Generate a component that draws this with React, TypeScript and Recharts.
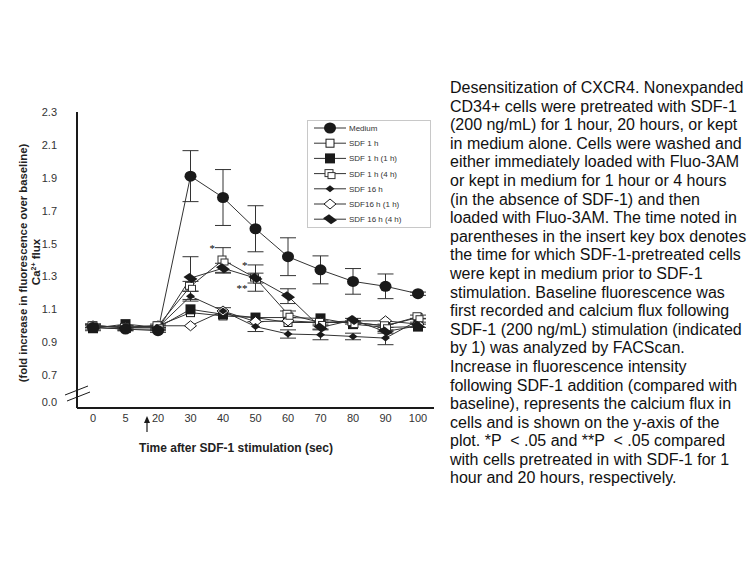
import React from "react";
import {
  LineChart,
  Line,
  XAxis,
  YAxis,
  ErrorBar,
  Legend,
  ReferenceDot,
} from "recharts";

// seconds after SDF-1 stimulation (category axis, evenly spaced)
const times = [0, 5, 20, 30, 40, 50, 60, 70, 80, 90, 100];

const medium = [0.99, 0.98, 0.97, 1.91, 1.78, 1.59, 1.42, 1.34, 1.27, 1.24, 1.195];
const mediumErr = [0.02, 0.01, 0.01, 0.155, 0.17, 0.14, 0.115, 0.085, 0.078, 0.075, 0.01];
const sdf1h = [1.0, 0.99, 1.0, 1.08, 1.06, 1.05, 1.02, 1.02, 1.02, 1.0, 1.05];
const sdf1h1h = [0.985, 1.01, 0.99, 1.1, 1.07, 1.05, 1.05, 1.045, 1.01, 0.99, 0.995];
const sdf1h4h = [1.0, 0.99, 1.0, 1.24, 1.4, 1.29, 1.07, 1.02, 1.02, 1.0, 1.055];
const sdf1h4hErr = [0.01, 0.01, 0.01, 0.03, 0.075, 0.08, 0.02, 0.01, 0.01, 0.01, 0.01];
const sdf16h = [1.0, 0.99, 0.99, 1.18, 1.09, 0.995, 0.95, 0.945, 0.935, 0.925, 1.032];
const sdf16hErr = [0.01, 0.01, 0.01, 0.03, 0.02, 0.03, 0.025, 0.03, 0.02, 0.04, 0.01];
const sdf16h1h = [1.0, 0.99, 1.0, 1.0, 1.09, 1.025, 1.03, 1.02, 1.03, 1.03, 1.01];
const sdf16h4h = [0.99, 0.98, 0.98, 1.29, 1.35, 1.29, 1.18, 0.99, 1.035, 0.965, 1.0];
const sdf16h4hErr = [0.01, 0.01, 0.01, 0.13, 0.03, 0.03, 0.045, 0.01, 0.01, 0.01, 0.01];

const yTicks = [0.5, 0.7, 0.9, 1.1, 1.3, 1.5, 1.7, 1.9, 2.1, 2.3];

// significance marks
const notes = [
  { t: 40, y: 1.47, text: "*" },
  { t: 50, y: 1.37, text: "*" },
  { t: 50, y: 1.23, text: "**" },
];

const caption = [
  "Desensitization of CXCR4. Nonexpanded",
  "CD34+ cells were pretreated with SDF-1",
  "(200 ng/mL) for 1 hour, 20 hours, or kept",
  "in medium alone. Cells were washed and",
  "either immediately loaded with Fluo-3AM",
  "or kept in medium for 1 hour or 4 hours",
  "(in the absence of SDF-1) and then",
  "loaded with Fluo-3AM. The time noted in",
  "parentheses in the insert key box denotes",
  "the time for which SDF-1-pretreated cells",
  "were kept in medium prior to SDF-1",
  "stimulation. Baseline fluorescence was",
  "first recorded and calcium flux following",
  "SDF-1 (200 ng/mL) stimulation (indicated",
  "by 1) was analyzed by FACScan.",
  "Increase in fluorescence intensity",
  "following SDF-1 addition (compared with",
  "baseline), represents the calcium flux in",
  "cells and is shown on the y-axis of the",
  "plot. *P  < .05 and **P  < .05 compared",
  "with cells pretreated in with SDF-1 for 1",
  "hour and 20 hours, respectively.",
];

type Kind = "circle" | "sq" | "sqFill" | "sqDouble" | "dmSmall" | "dmOpen" | "dmBig";

const series: { key: string; name: string; kind: Kind; err?: string }[] = [
  { key: "sdf1h", name: "SDF 1 h", kind: "sq" },
  { key: "sdf1h1h", name: "SDF 1 h (1 h)", kind: "sqFill" },
  { key: "sdf16h1h", name: "SDF16 h (1 h)", kind: "dmOpen" },
  { key: "sdf16h", name: "SDF 16 h", kind: "dmSmall", err: "sdf16hErr" },
  { key: "sdf1h4h", name: "SDF 1 h (4 h)", kind: "sqDouble", err: "sdf1h4hErr" },
  { key: "sdf16h4h", name: "SDF 16 h (4 h)", kind: "dmBig", err: "sdf16h4hErr" },
  { key: "medium", name: "Medium", kind: "circle", err: "mediumErr" },
];

const legendOrder = ["medium", "sdf1h", "sdf1h1h", "sdf1h4h", "sdf16h", "sdf16h1h", "sdf16h4h"];

const data = times.map((t, i) => ({
  t,
  medium: medium[i],
  mediumErr: mediumErr[i],
  sdf1h: sdf1h[i],
  sdf1h1h: sdf1h1h[i],
  sdf1h4h: sdf1h4h[i],
  sdf1h4hErr: sdf1h4hErr[i],
  sdf16h: sdf16h[i],
  sdf16hErr: sdf16hErr[i],
  sdf16h1h: sdf16h1h[i],
  sdf16h4h: sdf16h4h[i],
  sdf16h4hErr: sdf16h4hErr[i],
}));

const FONT = "'Liberation Sans', Arial, sans-serif";
const INK = "#1a1a1a";

function Marker({ kind, cx, cy }: { kind: Kind; cx: number; cy: number }) {
  switch (kind) {
    case "circle":
      return <ellipse cx={cx} cy={cy} rx={6} ry={5.5} fill={INK} />;
    case "sq":
      return <rect x={cx - 4} y={cy - 4} width={8} height={8} fill="#fff" stroke={INK} />;
    case "sqFill":
      return <rect x={cx - 5} y={cy - 5} width={10} height={10} fill={INK} />;
    case "sqDouble":
      return (
        <g>
          <rect x={cx - 5} y={cy - 4} width={8} height={7} fill="#fff" stroke="#333" />
          <rect x={cx - 2} y={cy - 1} width={7} height={6} fill="#fff" stroke="#333" />
        </g>
      );
    case "dmSmall":
      return (
        <polygon
          points={`${cx - 4.5},${cy} ${cx},${cy - 3.5} ${cx + 4.5},${cy} ${cx},${cy + 3.5}`}
          fill={INK}
        />
      );
    case "dmOpen":
      return (
        <polygon
          points={`${cx - 6},${cy} ${cx},${cy - 5} ${cx + 6},${cy} ${cx},${cy + 5}`}
          fill="#fff"
          stroke={INK}
        />
      );
    case "dmBig":
      return (
        <polygon
          points={`${cx - 7},${cy - 1} ${cx - 1},${cy - 5} ${cx + 7},${cy + 1} ${cx + 1},${cy + 5}`}
          fill={INK}
        />
      );
  }
  return null;
}

function makeDot(kind: Kind) {
  return function Dot(props: any) {
    const { cx, cy, index } = props;
    if (cx == null || cy == null) return <g key={index} />;
    return (
      <g key={`${kind}-${index}`}>
        <Marker kind={kind} cx={cx} cy={cy} />
      </g>
    );
  };
}

function KeyBox() {
  const rowH = 15.2;
  return (
    <div style={{ border: "1px solid #c8c8c8", background: "#fff", width: 122, height: 106 }}>
      <svg width={122} height={106}>
        {legendOrder.map((k, i) => {
          const s = series.find((d) => d.key === k)!;
          const y = 7 + i * rowH;
          return (
            <g key={k}>
              <line x1={6} x2={38} y1={y} y2={y} stroke="#333" strokeWidth={1} />
              <Marker kind={s.kind} cx={22} cy={y} />
              <text x={41} y={y + 3} fontSize={8} fontFamily={FONT} fill="#333">
                {s.name}
              </text>
            </g>
          );
        })}
      </svg>
    </div>
  );
}

function XTick({ x, y, payload }: any) {
  const v = payload?.value;
  return (
    <g>
      <text x={x} y={y} dy={8} textAnchor="middle" fontSize={11} fontFamily={FONT} fill="#333">
        {v}
      </text>
      {v === 20 && (
        <g>
          <line x1={x - 11} x2={x - 11} y1={y + 4} y2={y + 18} stroke={INK} strokeWidth={1.2} />
          <polygon
            points={`${x - 14},${y + 9} ${x - 8},${y + 9} ${x - 11},${y + 2}`}
            fill={INK}
          />
        </g>
      )}
    </g>
  );
}

function YTick({ x, y, payload }: any) {
  const v = payload?.value as number;
  if (v === 0.5) {
    const ax = x + 20;
    return (
      <g>
        <text x={x} y={y - 6} dy={4} textAnchor="end" fontSize={11} fontFamily={FONT} fill="#333">
          0.0
        </text>
        <line x1={ax - 12} y1={y - 13} x2={ax + 11} y2={y - 22} stroke={INK} strokeWidth={1} />
        <line x1={ax - 10} y1={y - 7} x2={ax + 13} y2={y - 16} stroke={INK} strokeWidth={1} />
      </g>
    );
  }
  return (
    <text x={x} y={y} dy={4} textAnchor="end" fontSize={11} fontFamily={FONT} fill="#333">
      {v.toFixed(1)}
    </text>
  );
}

function YTitle() {
  return (
    <g fontFamily={FONT} fontWeight="bold" fill="#222" textAnchor="middle">
      <text x={40} y={262} fontSize={11.5} transform="rotate(-90 40 262)">
        Ca
        <tspan fontSize={7} dy={-4}>2+</tspan>
        <tspan dy={4}> flux</tspan>
      </text>
      <text x={27} y={263} fontSize={11.3} transform="rotate(-90 27 263)">
        (fold increase in fluorescence over baseline)
      </text>
    </g>
  );
}

function XTitle() {
  return (
    <text
      x={236}
      y={452}
      textAnchor="middle"
      fontFamily={FONT}
      fontWeight="bold"
      fontSize={12}
      fill="#222"
    >
      Time after SDF-1 stimulation (sec)
    </text>
  );
}

export default function App() {
  return (
    <div style={{ position: "absolute", left: 0, top: 0, width: 756, height: 567, background: "#fff" }}>
      <LineChart
        width={440}
        height={470}
        data={data}
        margin={{ top: 112, right: 6, left: 0, bottom: 32 }}
      >
        <XAxis
          dataKey="t"
          type="category"
          padding={{ left: 16, right: 16 }}
          axisLine={{ stroke: INK, strokeWidth: 2 }}
          tickLine={false}
          tickSize={4}
          tickMargin={2}
          tick={<XTick />}
          height={30}
          interval={0}
          label={{ content: () => <XTitle /> }}
        />
        <XAxis
          xAxisId="top"
          dataKey="t"
          orientation="top"
          height={0}
          tick={false}
          tickLine={false}
          axisLine={{ stroke: INK, strokeWidth: 2 }}
        />
        <YAxis
          type="number"
          domain={[0.5, 2.3]}
          ticks={yTicks}
          width={77}
          axisLine={{ stroke: INK, strokeWidth: 2 }}
          tickLine={false}
          tickSize={14}
          tickMargin={6}
          tick={<YTick />}
          interval={0}
          allowDataOverflow
          label={{ content: () => <YTitle /> }}
        />
        <YAxis
          yAxisId="right"
          orientation="right"
          type="number"
          domain={[0.5, 2.3]}
          width={0}
          tick={false}
          tickLine={false}
          axisLine={{ stroke: INK, strokeWidth: 1.5 }}
        />
        {series.map((s) => (
          <Line
            key={s.key}
            dataKey={s.key}
            name={s.name}
            type="linear"
            stroke="#333"
            strokeWidth={1}
            dot={makeDot(s.kind)}
            activeDot={false}
            isAnimationActive={false}
          >
            {s.err && (
              <ErrorBar dataKey={s.err} width={8} stroke="#333" strokeWidth={1} direction="y" />
            )}
          </Line>
        ))}
        {notes.map((n, i) => (
          <ReferenceDot
            key={i}
            x={n.t}
            y={n.y}
            r={0}
            fill="none"
            stroke="none"
            ifOverflow="visible"
            label={{ value: n.text, position: "left", offset: 8, fontSize: 11, fill: "#000" }}
          />
        ))}
        <Legend
          layout="vertical"
          align="center"
          verticalAlign="middle"
          wrapperStyle={{ position: "absolute", left: 307, top: 120, width: 124, height: 108 }}
          content={() => <KeyBox />}
        />
      </LineChart>
      <div
        style={{
          position: "absolute",
          left: 450,
          top: 79,
          fontFamily: FONT,
          fontSize: 16,
          lineHeight: "18.6px",
          color: "#111",
          whiteSpace: "pre",
        }}
      >
        {caption.join("\n")}
      </div>
    </div>
  );
}
